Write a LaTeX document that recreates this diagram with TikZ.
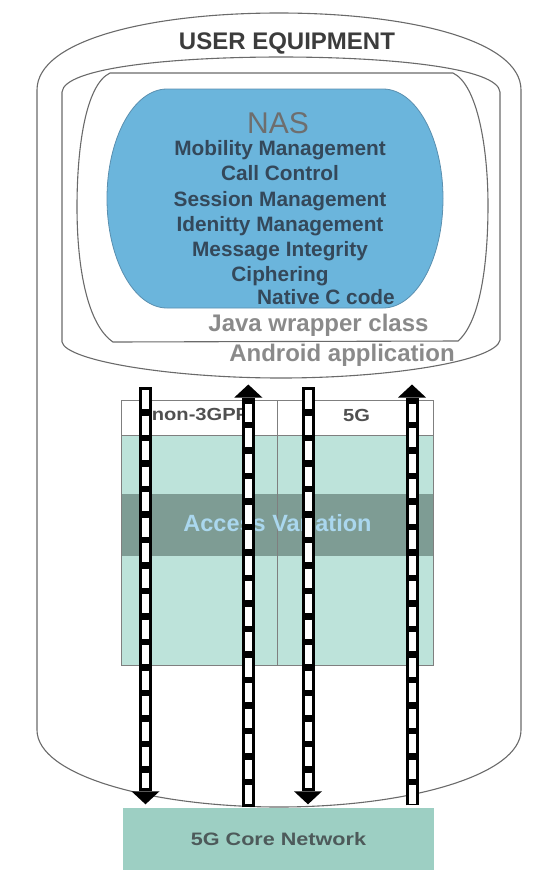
\documentclass[tikz,border=0pt]{standalone}
\usepackage{fontspec}
\setmainfont{Liberation Sans}
\newfontfamily\widefont[FakeStretch=1.15]{Liberation Sans}
\newfontfamily\corefont[FakeStretch=1.2]{Liberation Sans}
\usetikzlibrary{arrows.meta}
\definecolor{linegray}{HTML}{6A6A6A}
\definecolor{tablegray}{HTML}{7F7F7F}
\definecolor{nasblue}{HTML}{6BB5DC}
\definecolor{nasedge}{HTML}{5A8FAF}
\definecolor{nastext}{HTML}{34485A}
\definecolor{nasgray}{HTML}{6E6E6E}
\definecolor{uegray}{HTML}{3C3C3C}
\definecolor{wraptext}{HTML}{8A8A8A}
\definecolor{accesslight}{HTML}{BDE3DA}
\definecolor{accessdark}{HTML}{7E9C94}
\definecolor{accesstext}{HTML}{AAD7EE}
\definecolor{corefill}{HTML}{9DCFC3}
\definecolor{coretext}{HTML}{4D5A5A}
\definecolor{hdrtext}{HTML}{505050}
\begin{document}
\begin{tikzpicture}[x=1pt,y=-1pt,
  shapeline/.style={draw=linegray, line width=1.1pt},
  tableline/.style={draw=tablegray, line width=1pt},
  uetitle/.style={font=\bfseries\fontsize{24}{28}\selectfont, text=uegray, inner sep=0pt, text height=17pt, text depth=0pt},
  nastitle/.style={font=\fontsize{30}{34}\selectfont, text=nasgray, inner sep=0pt, text height=21.5pt, text depth=0pt},
  nasitem/.style={font=\bfseries\fontsize{20.8}{24}\selectfont, text=nastext, inner sep=0pt, text height=15pt, text depth=0pt},
  wrapper/.style={font=\bfseries\fontsize{24}{28}\selectfont, text=wraptext, inner sep=0pt, text height=17pt, text depth=0pt},
  hdr/.style={font=\widefont\bfseries\fontsize{17.5}{20}\selectfont, text=hdrtext, inner sep=0pt, text height=12.5pt, text depth=0pt},
  accesslabel/.style={font=\bfseries\fontsize{23.5}{27}\selectfont, text=accesstext, inner sep=0pt, text height=17pt, text depth=0pt},
  corebox/.style={fill=corefill, minimum width=311pt, minimum height=62pt, inner sep=0pt, text height=13pt, text depth=0pt,
     font=\corefont\bfseries\fontsize{18}{20}\selectfont, text=coretext},
  pipe/.style={draw=black, line width=13pt, line cap=butt,
     postaction={draw=white, arrows=-, line width=7pt, dash pattern=on 19pt off 6.5pt, shorten <=3pt, shorten >=19pt}},
  headtip/.style={-{Triangle[width=28pt,length=13pt,line width=0pt]}}
]
\useasboundingbox (0,0) rectangle (558,884);

% User equipment outline
\draw[shapeline] (37,90) .. controls (37,40) and (150,13) .. (279,13)
  .. controls (408,13) and (521,40) .. (521,90) -- (521,730)
  .. controls (521,775) and (408,807) .. (279,807)
  .. controls (150,807) and (37,775) .. (37,730) -- cycle;

% Android application outline
\draw[shapeline] (62,92) .. controls (64,68) and (170,57) .. (281,57)
  .. controls (392,57) and (498,68) .. (500,92) -- (500,340)
  .. controls (496,361) and (390,378) .. (281,378)
  .. controls (172,378) and (66,361) .. (62,342) -- cycle;

% Java wrapper class outline
\draw[shapeline] (110,73) -- (453,73)
  .. controls (478,85) and (488,150) .. (488,205)
  .. controls (488,265) and (480,322) .. (458,341) -- (113,342)
  .. controls (88,325) and (77,270) .. (77,207)
  .. controls (77,150) and (85,85) .. (110,73) -- cycle;

% NAS (native C code)
\filldraw[fill=nasblue, draw=nasedge, line width=0.8pt] (167,89) -- (383,89)
  arc[start angle=-90, end angle=90, x radius=60, y radius=109.5] -- (167,308)
  arc[start angle=90, end angle=270, x radius=60, y radius=109.5] -- cycle;

\node[uetitle] (ue) at (287,41) {USER EQUIPMENT};
\node[nastitle] (nas) at (278,123) {NAS};
\node[nasitem] (mm) at (280,148.3) {Mobility Management};
\node[nasitem] (cc) at (280,173.3) {Call Control};
\node[nasitem] (sm) at (280,199) {Session Management};
\node[nasitem] (im) at (280,224) {Idenitty Management};
\node[nasitem] (mi) at (280,249.3) {Message Integrity};
\node[nasitem] (ci) at (280,274) {Ciphering};
\node[nasitem] (nc) at (326,297) {Native C code};
\node[wrapper] (jw) at (318.5,323) {Java wrapper class};
\node[wrapper] (aa) at (342,353) {Android application};

% Access variation table
\fill[white] (121.7,400.7) rectangle (433,435.7);
\fill[accesslight] (121.7,435.7) rectangle (433,665);
\fill[accessdark] (121.7,494) rectangle (433,556);
\draw[tableline] (121.7,400.7) rectangle (433,665);
\draw[tableline] (277.7,400.7) -- (277.7,665);
\draw[tableline] (121.7,435.7) -- (433,435.7);
\node[hdr] (n3) at (200.5,414.5) {non-3GPP};
\node[hdr] (g5) at (356.5,415) {5G};
\node[accesslabel] (av) at (277.5,523) {Access Variation};

% 5G core
\node[corebox] (core) at (278.5,838.5) {5G Core Network};

% Arrows
\coordinate (t1) at (145.5,387);
\coordinate (t2) at (248.3,384.5);
\coordinate (t3) at (308,387);
\coordinate (t4) at (412,384.5);
\draw[pipe, headtip, shorten >=3pt] (t1) -- (t1 |- core.north);
\draw[pipe, headtip] (t2 |- core.north) -- (t2);
\draw[pipe, headtip, shorten >=3pt] (t3) -- (t3 |- core.north);
\draw[pipe, headtip, shorten <=2pt] (t4 |- core.north) -- (t4);
\end{tikzpicture}
\end{document}
